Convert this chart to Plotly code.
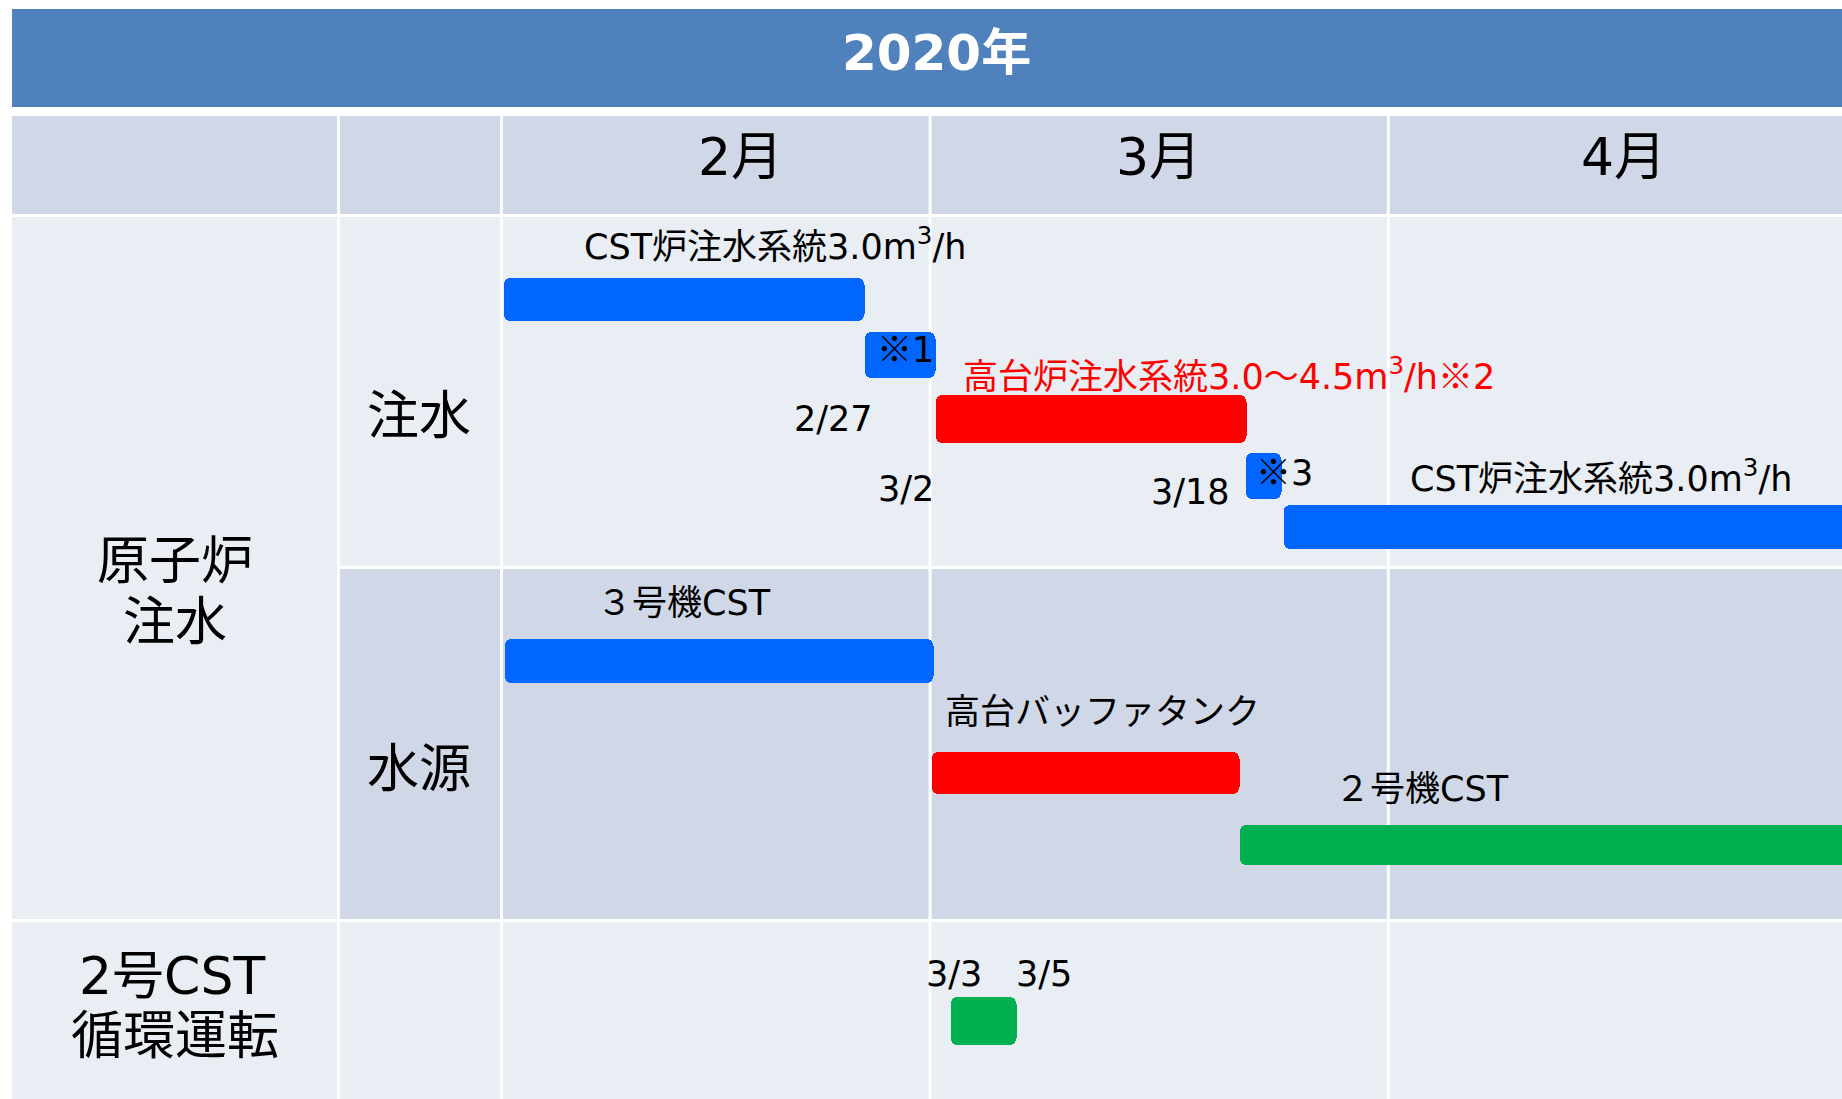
import plotly.graph_objects as go
import pandas as pd

# ---------------- data ----------------
tasks = ["CST炉注水系統(前)", "※1", "高台炉注水系統", "※3", "CST炉注水系統(後)",
         "3号機CST", "高台バッファタンク", "2号機CST", "2号CST循環運転"]
starts = ["2020-02-01 04:00", "2020-02-25 14:00", "2020-03-01 08:00", "2020-03-22 08:30",
          "2020-03-24 21:30", "2020-02-01 05:00", "2020-03-01 01:30", "2020-03-21 21:40",
          "2020-03-02 09:00"]
ends = ["2020-02-25 14:00", "2020-03-01 08:00", "2020-03-22 10:00", "2020-03-24 19:00",
        "2020-05-10 00:00", "2020-03-01 05:30", "2020-03-21 21:40", "2020-05-10 00:00",
        "2020-03-06 19:30"]
month_labels = ["2月", "3月", "4月"]
month_starts = ["2020-02-01", "2020-03-01", "2020-04-01"]
year_label = "2020年"

# ---------------- styles / layout ----------------
W, H = 1842, 1099
BLUE, RED, GREEN = "#0066FF", "#FF0000", "#00B050"
bar_colors = [BLUE, BLUE, RED, BLUE, BLUE, BLUE, RED, GREEN, GREEN]
lane_y = [299.5, 355, 419, 476, 526.5, 661, 773, 845, 1021]
lane_h = [43, 46, 48, 46, 44, 44, 42, 40, 48]
FONT = "DejaVu Sans, Noto Sans CJK JP, sans-serif"
HDR = "#4F81BD"
DARK = "#D0D8E8"
LIGHT = "#E9EDF4"
SMALL = 35
MARK = "<span style='font-family:Noto Sans CJK JP'>※</span>"

def fx(x):
    return x / W

def fy(y):
    return 1 - y / H

s = pd.to_datetime(starts)
e = pd.to_datetime(ends)
dur_ms = [(b - a).total_seconds() * 1000 for a, b in zip(s, e)]

fig = go.Figure()
fig.add_trace(go.Bar(
    orientation="h", base=starts, x=dur_ms, y=lane_y, width=lane_h,
    marker=dict(color=bar_colors, line=dict(width=0), cornerradius=7),
    hoverinfo="skip", showlegend=False, hovertext=tasks,
))

shapes = []

def rect(x0, y0, x1, y1, color):
    shapes.append(dict(type="rect", xref="paper", yref="paper", x0=fx(x0), x1=fx(x1),
                       y0=fy(y1), y1=fy(y0), fillcolor=color, line=dict(width=0), layer="below"))

rect(12, 9, W, 107, HDR)
rect(12, 116, W, 214, DARK)
rect(12, 217, W, 566, LIGHT)
rect(12, 566, 337, 919, LIGHT)
rect(340, 569, W, 919, DARK)
rect(12, 922, W, H, LIGHT)

for xp in [338.5, 501.5]:
    shapes.append(dict(type="line", xref="paper", yref="paper", x0=fx(xp), x1=fx(xp),
                       y0=fy(H), y1=fy(116), line=dict(color="white", width=3), layer="below"))
for ms in month_starts[1:]:
    shapes.append(dict(type="line", xref="x", yref="paper", x0=ms, x1=ms,
                       y0=fy(H), y1=fy(116), line=dict(color="white", width=3), layer="below"))

ann = []

def label(text, x, y, size=SMALL, color="black", xanchor="center"):
    ann.append(dict(text=text, x=fx(x), y=fy(y), xref="paper", yref="paper",
                    xanchor=xanchor, yanchor="middle", showarrow=False,
                    font=dict(size=size, color=color, family=FONT)))

# headers
label("<b>" + year_label + "</b>", 936, 53, size=50, color="white")
for t, xc in zip(month_labels, [740.5, 1158.6, 1623]):
    label(t, xc, 156.5, size=52)

# row labels
label("原子炉", 174.5, 561, size=52)
label("注水", 175, 622, size=52)
label("注水", 419, 416, size=52)
label("水源", 419, 769, size=52)
label("2号CST", 172, 975.5, size=52)
label("循環運転", 175, 1036, size=52)

# bar labels
label("CST炉注水系統3.0m<sup>3</sup>/h", 774.5, 244)
label(MARK + "1", 905, 347)
label("高台炉注水系統3.0〜4.5m<sup>3</sup>/h" + MARK + "2", 1229, 373, color=RED)
label("2/27", 833.5, 419)
label("3/2", 905.5, 489)
label("3/18", 1190, 492)
label(MARK + "3", 1284, 470)
label("CST炉注水系統3.0m<sup>3</sup>/h", 1601, 476)
label("３号機CST", 684, 603)
label("高台バッファタンク", 1102, 712)
label("２号機CST", 1422, 789)
label("3/3", 953.5, 974)
label("3/5", 1043.5, 974)

day_px = 14.78
x_end = pd.Timestamp("2020-02-01") + pd.Timedelta(days=(W - 501.5) / day_px)

fig.update_layout(
    width=W, height=H, margin=dict(l=0, r=0, t=0, b=0),
    paper_bgcolor="white", plot_bgcolor="rgba(0,0,0,0)",
    font=dict(family=FONT, color="black"),
    xaxis=dict(type="date", domain=[fx(501.5), 1], range=["2020-02-01", x_end.strftime("%Y-%m-%d %H:%M")],
               visible=False, showgrid=False, zeroline=False),
    yaxis=dict(range=[H, 0], domain=[0, 1], visible=False, showgrid=False, zeroline=False),
    shapes=shapes, annotations=ann, bargap=0,
)

fig.write_html("out.html", config={"displayModeBar": False},
               post_script="document.body.style.margin='0';document.body.style.overflow='hidden';")
